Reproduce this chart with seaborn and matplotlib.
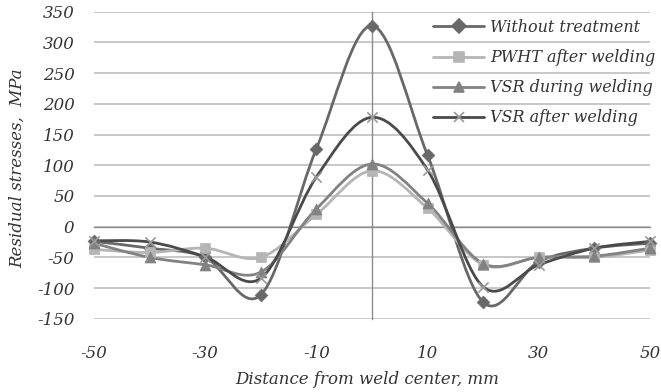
import numpy as np
import seaborn as sns
import matplotlib
matplotlib.use('Agg')
import matplotlib.pyplot as plt
from matplotlib.path import Path
from matplotlib.patches import PathPatch
from matplotlib.lines import Line2D

# Data
distance = [-50, -40, -30, -20, -10, 0, 10, 20, 30, 40, 50]
without_treatment = [-24, -35, -50, -111, 127, 327, 116, -123, -57, -35, -27]
pwht_after = [-37, -42, -35, -50, 20, 91, 30, -62, -50, -50, -38]
vsr_during = [-27, -50, -62, -74, 29, 102, 38, -60, -50, -48, -35]
vsr_after = [-23, -25, -49, -84, 81, 178, 92, -98, -62, -35, -24]

labels = ['Without treatment', 'PWHT after welding', 'VSR during welding', 'VSR after welding']
y_ticks = [-150, -100, -50, 0, 50, 100, 150, 200, 250, 300, 350]
x_ticks = [-50, -30, -10, 10, 30, 50]

sns.set_theme(style='white')
plt.rcParams['font.family'] = ['DejaVu Serif']
plt.rcParams['font.style'] = 'italic'
plt.rcParams['axes.unicode_minus'] = False


def smooth_path(xs, ys):
    # excel style smoothed line: cubic bezier through every point
    pts = np.column_stack([xs, ys]).astype(float)
    n = len(pts)
    verts = [pts[0]]
    codes = [Path.MOVETO]
    for i in range(n - 1):
        p0 = pts[max(i - 1, 0)]
        p1 = pts[i]
        p2 = pts[i + 1]
        p3 = pts[min(i + 2, n - 1)]
        verts += [p1 + (p2 - p0) / 6, p2 - (p3 - p1) / 6, p2]
        codes += [Path.CURVE4] * 3
    return Path(verts, codes)


series = [
    (without_treatment, '#686868', 'D', 42, '#686868'),
    (pwht_after, '#b5b5b5', 's', 60, '#b5b5b5'),
    (vsr_during, '#828282', '^', 62, '#828282'),
    (vsr_after, '#4a4a4a', 'x', 55, '#9a9a9a'),
]

fig = plt.figure(figsize=(6.61, 3.92), dpi=100)
ax = fig.add_axes([0.1422, 0.1867, 0.8412, 0.7835])

handles = []
for vals, col, mk, sz, mcol in series:
    ax.add_patch(PathPatch(smooth_path(distance, vals), facecolor='none',
                           edgecolor=col, lw=2.0, zorder=3, capstyle='round'))
    if mk == 'x':
        sns.scatterplot(x=distance, y=vals, marker=mk, s=sz, color=mcol,
                        linewidth=1.2, ax=ax, zorder=4, clip_on=False)
    else:
        sns.scatterplot(x=distance, y=vals, marker=mk, s=sz, color=mcol,
                        edgecolor=mcol, linewidth=0.5, ax=ax, zorder=4, clip_on=False)
    handles.append(Line2D([], [], color=col, lw=2.0, marker=mk, markersize=7,
                          markerfacecolor=mcol, markeredgecolor=mcol, markeredgewidth=1.2))

ax.set_xlim(-50, 50)
ax.set_ylim(-150, 350)

# gridlines
ax.set_yticks(y_ticks)
ax.yaxis.grid(True, color='#bdbdbd', lw=1.2)
ax.set_axisbelow(True)

# axis lines crossing at zero
for s in ['top', 'right']:
    ax.spines[s].set_visible(False)
ax.spines['left'].set_position(('data', 0))
ax.spines['bottom'].set_position(('data', 0))
ax.spines['left'].set_color('#8c8c8c')
ax.spines['bottom'].set_color('#8c8c8c')
ax.spines['left'].set_linewidth(1.0)
ax.spines['bottom'].set_linewidth(1.0)
ax.set_xticks(x_ticks)
ax.set_xticks(np.arange(-50, 51, 4), minor=True)
ax.set_yticks(np.arange(-150, 351, 10), minor=True)
ax.tick_params(axis='x', which='major', direction='inout', length=8, width=1, color='#8c8c8c', labelbottom=False)
ax.tick_params(axis='x', which='minor', direction='in', length=4, width=1, color='#8c8c8c')
ax.tick_params(axis='y', which='major', direction='inout', length=8, width=1, color='#8c8c8c', labelleft=False)
ax.tick_params(axis='y', which='minor', direction='out', length=4, width=1, color='#8c8c8c')

# tick labels on the outer edges
secx = ax.secondary_xaxis(0.0)
secx.set_xticks(x_ticks, labels=[str(v) for v in x_ticks], fontstyle='italic')
secx.spines['bottom'].set_visible(False)
secx.tick_params(length=0, pad=19, labelsize=12, labelcolor='#333333')
secy = ax.secondary_yaxis(0.0)
secy.set_yticks(y_ticks, labels=[str(v) for v in y_ticks], fontstyle='italic')
secy.spines['left'].set_visible(False)
secy.tick_params(length=0, pad=14, labelsize=12, labelcolor='#333333')

fig.text(0.555, 0.033, 'Distance from weld center, mm', ha='center', va='center',
         fontsize=12, color='#333333')
fig.text(0.026, 0.57, 'Residual stresses,  MPa', ha='center', va='center',
         rotation=90, fontsize=12, color='#333333')

ax.legend(handles, labels, loc='upper left', bbox_to_anchor=(433 / 661, 1 - 19 / 392),
          bbox_transform=fig.transFigure, frameon=False, fontsize=11.5,
          handlelength=3.2, handletextpad=0.4, labelspacing=0.82,
          borderpad=0, borderaxespad=0, labelcolor='#333333')

fig.savefig('out.png', dpi=100)
